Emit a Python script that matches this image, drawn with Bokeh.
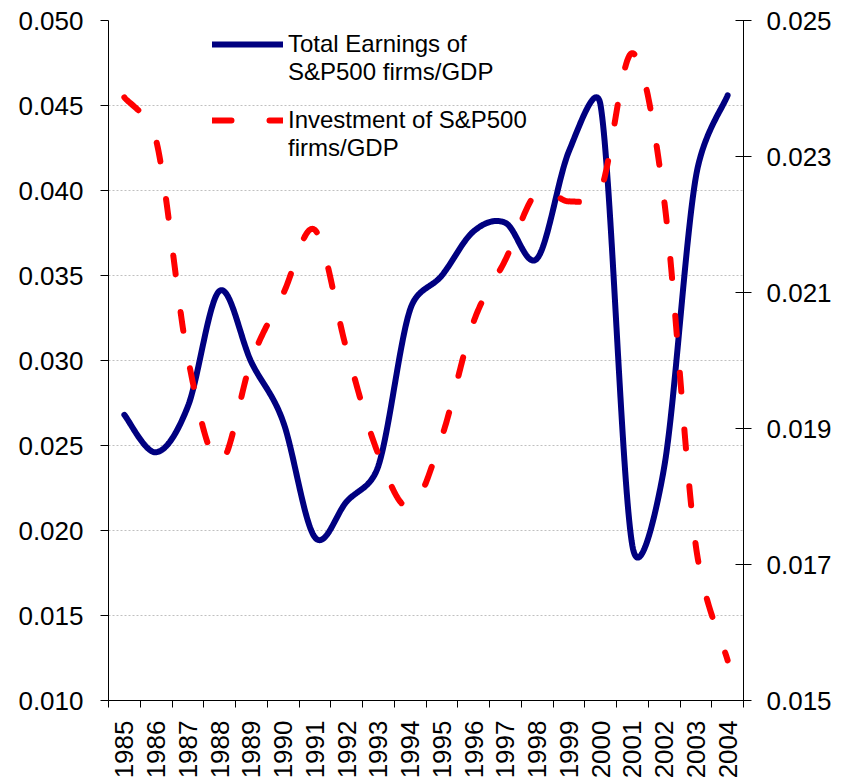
import math
import numpy as np
from bokeh.plotting import figure
from bokeh.models import (Range1d, LinearAxis, FixedTicker, PrintfTickFormatter,
                          Legend, LegendItem)
from bokeh.embed import file_html
from bokeh.resources import INLINE

# ---------------- data ----------------
years = [str(y) for y in range(1985, 2005)]
earnings_gdp = [0.0268, 0.0246, 0.0273, 0.0341, 0.0299, 0.0264, 0.0196, 0.0217,
                0.0238, 0.0330, 0.0350, 0.0376, 0.0381, 0.0360, 0.0423, 0.0450,
                0.0191, 0.0237, 0.0408, 0.0456]
investment_gdp = [0.02387, 0.02324, 0.02004, 0.01850, 0.02000, 0.02098, 0.02192,
                  0.02016, 0.01862, 0.01784, 0.01888, 0.02057, 0.02148, 0.02248,
                  0.02234, 0.02250, 0.02452, 0.02236, 0.01727, 0.01559]
left_ticks = [0.010, 0.015, 0.020, 0.025, 0.030, 0.035, 0.040, 0.045, 0.050]
right_ticks = [0.015, 0.017, 0.019, 0.021, 0.023, 0.025]
label_earn = ["Total Earnings of", "S&P500 firms/GDP"]
label_inv = ["Investment of S&P500", "firms/GDP"]

FONT = "Liberation Sans"
FRAME_W, FRAME_H = 635, 681


def smooth(xs, ys, xscale, yscale, n=40):
    """Excel-style smoothed line: cubic Bezier through the points, tangent
    parallel to the neighbours' chord, handle length limited to half the segment
    (computed in screen space). Returns data coords and screen path length."""
    pts = np.column_stack([np.asarray(xs, float) * xscale, np.asarray(ys, float) * yscale])
    m = len(pts)
    out = [pts[0]]
    t = np.linspace(0, 1, n + 1)[1:, None]
    for i in range(m - 1):
        p0 = pts[i - 1] if i > 0 else pts[i]
        p1, p2 = pts[i], pts[i + 1]
        p3 = pts[i + 2] if i + 2 < m else pts[i + 1]
        seg_len = np.hypot(*(p2 - p1))
        t1 = (p2 - p0) / 6.0
        t2 = (p3 - p1) / 6.0
        l1, l2 = np.hypot(*t1), np.hypot(*t2)
        if l1 > seg_len / 2 and l1 > 0:
            t1 = t1 * (seg_len / 2) / l1
        if l2 > seg_len / 2 and l2 > 0:
            t2 = t2 * (seg_len / 2) / l2
        c1 = p1 + t1
        c2 = p2 - t2
        seg = ((1 - t) ** 3) * p1 + 3 * ((1 - t) ** 2) * t * c1 + 3 * (1 - t) * t ** 2 * c2 + t ** 3 * p2
        out.extend(seg)
    out = np.array(out)
    length = float(np.sum(np.hypot(np.diff(out[:, 0]), np.diff(out[:, 1]))))
    return out[:, 0] / xscale, out[:, 1] / yscale, length


xpos = list(range(len(years)))
bounds = [i - 0.5 for i in range(len(years) + 1)]

p = figure(width=835, height=781,
           x_range=Range1d(-0.5, len(years) - 0.5),
           y_range=Range1d(left_ticks[0], left_ticks[-1]),
           output_backend="svg", toolbar_location=None,
           min_border_left=108, min_border_right=92,
           min_border_top=20, min_border_bottom=80)
p.extra_y_ranges = {"right": Range1d(right_ticks[0], right_ticks[-1])}
p.outline_line_color = None
p.background_fill_color = "white"
p.border_fill_color = "white"

# x axis
xa = p.xaxis[0]
xa.ticker = FixedTicker(ticks=xpos, minor_ticks=bounds)
xa.major_label_overrides = {i: y for i, y in zip(xpos, years)}
xa.major_tick_out = 0
xa.major_tick_in = 0
xa.minor_tick_out = 7
xa.minor_tick_in = 0
xa.minor_tick_line_color = "black"
xa.axis_line_color = "black"
xa.major_label_orientation = math.pi / 2
xa.major_label_standoff = 13
xa.major_label_text_font = FONT
xa.major_label_text_font_size = "26px"
xa.major_label_text_color = "black"

# left axis
ya = p.yaxis[0]
ya.ticker = FixedTicker(ticks=left_ticks)
ya.formatter = PrintfTickFormatter(format="%.3f")
ya.major_tick_out = 8
ya.major_tick_in = 0
ya.minor_tick_out = 0
ya.minor_tick_in = 0
ya.major_tick_line_color = "black"
ya.axis_line_color = "black"
ya.major_label_standoff = 17
ya.major_label_text_font = FONT
ya.major_label_text_font_size = "26px"
ya.major_label_text_color = "black"

# right axis
ra = LinearAxis(y_range_name="right", ticker=FixedTicker(ticks=right_ticks),
                formatter=PrintfTickFormatter(format="%.3f"))
ra.major_tick_out = 8
ra.major_tick_in = 8
ra.minor_tick_out = 0
ra.minor_tick_in = 0
ra.major_tick_line_color = "black"
ra.axis_line_color = "black"
ra.major_label_standoff = 15
ra.major_label_text_font = FONT
ra.major_label_text_font_size = "26px"
ra.major_label_text_color = "black"
p.add_layout(ra, "right")

# grid
p.xgrid.visible = False
p.ygrid.ticker = FixedTicker(ticks=left_ticks)
p.ygrid.grid_line_color = "#c0c0c0"
p.ygrid.grid_line_dash = "2 2"
p.ygrid.grid_line_width = 1

# series (smoothed in screen space)
xscale = FRAME_W / len(years)
bx, by, _ = smooth(xpos, earnings_gdp, xscale, FRAME_H / (left_ticks[-1] - left_ticks[0]))
rx, ry, rlen = smooth(xpos, investment_gdp, xscale, FRAME_H / (right_ticks[-1] - right_ticks[0]))

# choose a dash gap so that the dashed line ends with a short dash (dot)
DASH = 19
best_gap = 38
best_err = 1e9
for g in range(33, 44):
    r = rlen % (DASH + g)
    err = abs(r - 2)
    if err < best_err:
        best_err, best_gap = err, g

blue = p.line(bx, by, line_color="#000080", line_width=6,
              line_cap="round", line_join="round")
red = p.line(rx, ry, y_range_name="right", line_color="#FF0000", line_width=6,
             line_dash=f"{DASH} {best_gap}", line_cap="round", line_join="round")


def make_legend(items, loc):
    lg = Legend(items=items)
    lg.location = loc
    lg.padding = 10
    lg.spacing = 0
    lg.margin = 0
    lg.glyph_width = 71
    lg.glyph_height = 26
    lg.label_height = 26
    lg.label_standoff = 5
    lg.label_text_font = FONT
    lg.label_text_font_size = "24px"
    lg.label_text_color = "black"
    lg.background_fill_color = "white"
    lg.background_fill_alpha = 1.0
    lg.border_line_color = None
    return lg


leg1 = make_legend([LegendItem(label=label_earn[0], renderers=[blue]),
                    LegendItem(label=label_earn[1], renderers=[])], (104, 614))
leg2 = make_legend([LegendItem(label=label_inv[0], renderers=[red]),
                    LegendItem(label=label_inv[1], renderers=[])], (104, 538))
p.add_layout(leg1, "center")
p.add_layout(leg2, "center")

open("out.html", "w").write(file_html(p, INLINE))
